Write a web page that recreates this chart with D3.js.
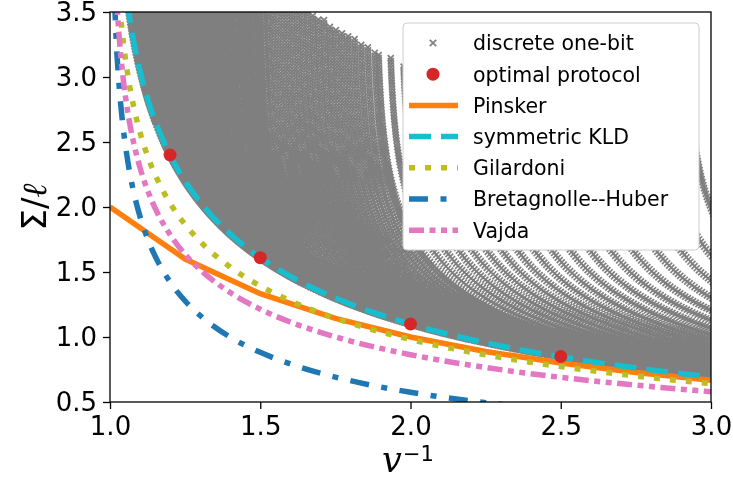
<!DOCTYPE html>
<html>
<head>
<meta charset="utf-8">
<script src="https://cdn.jsdelivr.net/npm/d3@7"></script>
<style>
  body { margin: 0; background: #fff; }
  #chart { position: relative; width: 733px; height: 478px; }
  #chart canvas, #chart svg { position: absolute; left: 0; top: 0; }
  text { font-family: "DejaVu Sans", sans-serif; }
</style>
</head>
<body>
<div id="chart"></div>
<script>
// values (x = v^-1)
const invV = [1.01, 1.02, 1.03, 1.04, 1.06, 1.08, 1.10, 1.13, 1.16, 1.20, 1.25, 1.30,
              1.40, 1.50, 1.60, 1.70, 1.80, 2.00, 2.20, 2.40, 2.60, 2.80, 3.00];
const symKLD = [5.303, 4.615, 4.215, 3.932, 3.536, 3.258, 3.045, 2.796, 2.603, 2.398, 2.197, 2.037,
                1.792, 1.609, 1.466, 1.350, 1.253, 1.099, 0.981, 0.887, 0.811, 0.747, 0.693];
const gilardoni = [4.654, 3.997, 3.622, 3.362, 3.004, 2.759, 2.573, 2.361, 2.199, 2.029, 1.865, 1.735,
                   1.538, 1.393, 1.278, 1.185, 1.106, 0.981, 0.884, 0.806, 0.742, 0.687, 0.641];
const bretagnolle = [3.966, 3.314, 2.943, 2.688, 2.340, 2.103, 1.926, 1.727, 1.577, 1.423, 1.277, 1.165,
                     0.999, 0.882, 0.793, 0.722, 0.664, 0.575, 0.509, 0.458, 0.416, 0.382, 0.353];
const vajda = [4.351, 3.698, 3.326, 3.070, 2.719, 2.480, 2.301, 2.099, 1.945, 1.787, 1.635, 1.518,
               1.342, 1.214, 1.115, 1.036, 0.969, 0.864, 0.783, 0.718, 0.664, 0.619, 0.579];

// Pinsker is drawn from a coarser set of points (visible kinks)
const pinskerX = [1.0, 1.25, 1.5, 1.75, 2.0, 2.25, 2.5, 2.75, 3.0];
const pinsker = [2.0, 1.6, 1.333, 1.143, 1.0, 0.889, 0.8, 0.727, 0.667];

// optimal protocol points
const optimalX = [1.2, 1.5, 2.0, 2.5];
const optimalY = [2.40, 1.61, 1.10, 0.85];

// upper edge of the one-bit cloud
const cloudEdgeX = [1.6, 1.667, 1.7, 1.8, 1.9, 2.0, 2.2, 2.4, 2.6, 2.8, 3.0];
const cloudEdgeY = [3.62, 3.50, 3.455, 3.31, 3.18, 3.08, 2.93, 2.79, 2.665, 2.56, 2.465];

// one-bit protocols: fixed probability q on a grid (finer where the cloud is solid)
const qLevels = d3.range(0.004, 0.33, 0.0045)
    .concat(d3.range(0.33, 0.47, 0.0065))
    .concat(d3.range(0.47, 0.67, 0.011));

const xTicks = [1.0, 1.5, 2.0, 2.5, 3.0];
const yTicks = [0.5, 1.0, 1.5, 2.0, 2.5, 3.0, 3.5];

const width = 733, height = 478;
const plot = {left: 110, right: 711, top: 12, bottom: 402};

const x = d3.scaleLinear().domain([1, 3]).range([plot.left, plot.right]);
const y = d3.scaleLinear().domain([0.5, 3.5]).range([plot.bottom, plot.top]);

const wrap = d3.select("#chart");

// ---- scatter cloud on a canvas (too many markers for svg)
const edge = d3.scaleLinear().domain(cloudEdgeX).range(cloudEdgeY).clamp(true);
const cloud = [];
qLevels.forEach(q => {
    // sweep from just before the symmetric point (or from v = 1/3) up to p -> 1
    let p = Math.max(q + 1 / 3.03, 1 - q - 0.015);
    while (p < 1 - 3e-4) {
        const v = p - q;
        const xv = 1 / v;
        const yv = 0.5 * (Math.log(p / q) + Math.log((1 - q) / (1 - p)));
        if (xv <= 3.03 && yv <= edge(xv) && yv <= 3.56) cloud.push([xv, yv]);
        const sx = 300 / (v * v), sy = 65 * (1 / p + 1 / (1 - p));
        p += 3.0 / Math.hypot(sx, sy);
    }
});

const canvas = wrap.append("canvas").attr("width", width).attr("height", height).node();
const ctx = canvas.getContext("2d");
ctx.save();
ctx.beginPath();
ctx.rect(plot.left, plot.top, plot.right - plot.left, plot.bottom - plot.top);
ctx.clip();
ctx.strokeStyle = "#7f7f7f";
ctx.lineWidth = 1.7;
ctx.beginPath();
const s = 3.0;
cloud.forEach(([a, b]) => {
    const X = x(a), Y = y(b);
    ctx.moveTo(X - s, Y - s); ctx.lineTo(X + s, Y + s);
    ctx.moveTo(X - s, Y + s); ctx.lineTo(X + s, Y - s);
});
ctx.stroke();
ctx.restore();

// ---- svg layer
const svg = wrap.append("svg").attr("width", width).attr("height", height);

svg.append("clipPath").attr("id", "clip")
    .append("rect")
    .attr("x", plot.left).attr("y", plot.top)
    .attr("width", plot.right - plot.left).attr("height", plot.bottom - plot.top);

const lines = svg.append("g").attr("clip-path", "url(#clip)");

const series = [
    {label: "Pinsker", xs: pinskerX, ys: pinsker, color: "#ff7f0e", dash: null, curve: d3.curveLinear},
    {label: "symmetric KLD", xs: invV, ys: symKLD, color: "#17becf", dash: "22,10", curve: d3.curveMonotoneX},
    {label: "Gilardoni", xs: invV, ys: gilardoni, color: "#bcbd22", dash: "6,10", curve: d3.curveMonotoneX},
    {label: "Bretagnolle--Huber", xs: invV, ys: bretagnolle, color: "#1f77b4", dash: "19,12.5,6,12.5", curve: d3.curveMonotoneX},
    {label: "Vajda", xs: invV, ys: vajda, color: "#e377c2", dash: "15,5.5,6,5.5,6,5.5", curve: d3.curveMonotoneX}
];

series.forEach(sr => {
    const line = d3.line().x(d => x(d[0])).y(d => y(d[1])).curve(sr.curve);
    lines.append("path")
        .datum(d3.zip(sr.xs, sr.ys))
        .attr("d", line)
        .attr("fill", "none")
        .attr("stroke", sr.color)
        .attr("stroke-width", 5.5)
        .attr("stroke-dasharray", sr.dash);
});

lines.selectAll(".opt")
    .data(d3.zip(optimalX, optimalY))
    .join("circle")
    .attr("class", "opt")
    .attr("cx", d => x(d[0]))
    .attr("cy", d => y(d[1]))
    .attr("r", 6.5)
    .attr("fill", "#d62728");

// ---- axes
const xAxis = svg.append("g")
    .attr("transform", `translate(0,${plot.bottom})`)
    .call(d3.axisBottom(x).tickValues(xTicks).tickFormat(d3.format(".1f")).tickSize(7).tickPadding(8));
const yAxis = svg.append("g")
    .attr("transform", `translate(${plot.left},0)`)
    .call(d3.axisLeft(y).tickValues(yTicks).tickFormat(d3.format(".1f")).tickSize(7).tickPadding(6));

[xAxis, yAxis].forEach(g => {
    g.select(".domain").remove();
    g.selectAll(".tick line").attr("stroke", "#000").attr("stroke-width", 1.3);
    g.selectAll(".tick text")
        .attr("fill", "#000")
        .style("font-family", "DejaVu Sans")
        .style("font-size", "26px");
});

svg.append("rect")
    .attr("x", plot.left).attr("y", plot.top)
    .attr("width", plot.right - plot.left).attr("height", plot.bottom - plot.top)
    .attr("fill", "none").attr("stroke", "#000").attr("stroke-width", 1.3);

// axis labels
const xl = svg.append("text").attr("y", 472).attr("fill", "#000");
xl.append("tspan").attr("x", 382)
    .style("font-family", "DejaVu Serif").style("font-style", "italic").style("font-size", "35px")
    .text("v");
xl.append("tspan").attr("x", 403).attr("y", 461)
    .style("font-size", "21px").text("\u22121");

svg.append("text")
    .attr("transform", "translate(46,207) rotate(-90)")
    .attr("text-anchor", "middle")
    .style("font-size", "34px")
    .attr("fill", "#000")
    .html('\u03A3/<tspan style="font-family:DejaVu Serif;font-style:italic">\u2113</tspan>');

// ---- legend
const legend = svg.append("g");
legend.append("rect")
    .attr("x", 403).attr("y", 23).attr("width", 296).attr("height", 227).attr("rx", 4)
    .attr("fill", "#fff").attr("stroke", "#cccccc").attr("stroke-width", 1);

const rowY = i => 43 + i * 31.2;
const legendRows = ["discrete one-bit", "optimal protocol"].concat(series.map(d => d.label));

legend.selectAll(".lab")
    .data(legendRows)
    .join("text")
    .attr("class", "lab")
    .attr("x", 473)
    .attr("y", (d, i) => rowY(i))
    .attr("dy", "0.36em")
    .attr("fill", "#000")
    .style("font-size", "20.5px")
    .text(d => d);

const mk = 3.2;
legend.append("path")
    .attr("d", `M${433 - mk},${rowY(0) - mk}L${433 + mk},${rowY(0) + mk}M${433 - mk},${rowY(0) + mk}L${433 + mk},${rowY(0) - mk}`)
    .attr("stroke", "#7f7f7f").attr("stroke-width", 1.7);
legend.append("circle").attr("cx", 433).attr("cy", rowY(1)).attr("r", 6.5).attr("fill", "#d62728");

series.forEach((sr, i) => {
    legend.append("line")
        .attr("x1", 409).attr("x2", 458)
        .attr("y1", rowY(i + 2)).attr("y2", rowY(i + 2))
        .attr("stroke", sr.color)
        .attr("stroke-width", 5.5)
        .attr("stroke-dasharray", sr.dash);
});
</script>
</body>
</html>
